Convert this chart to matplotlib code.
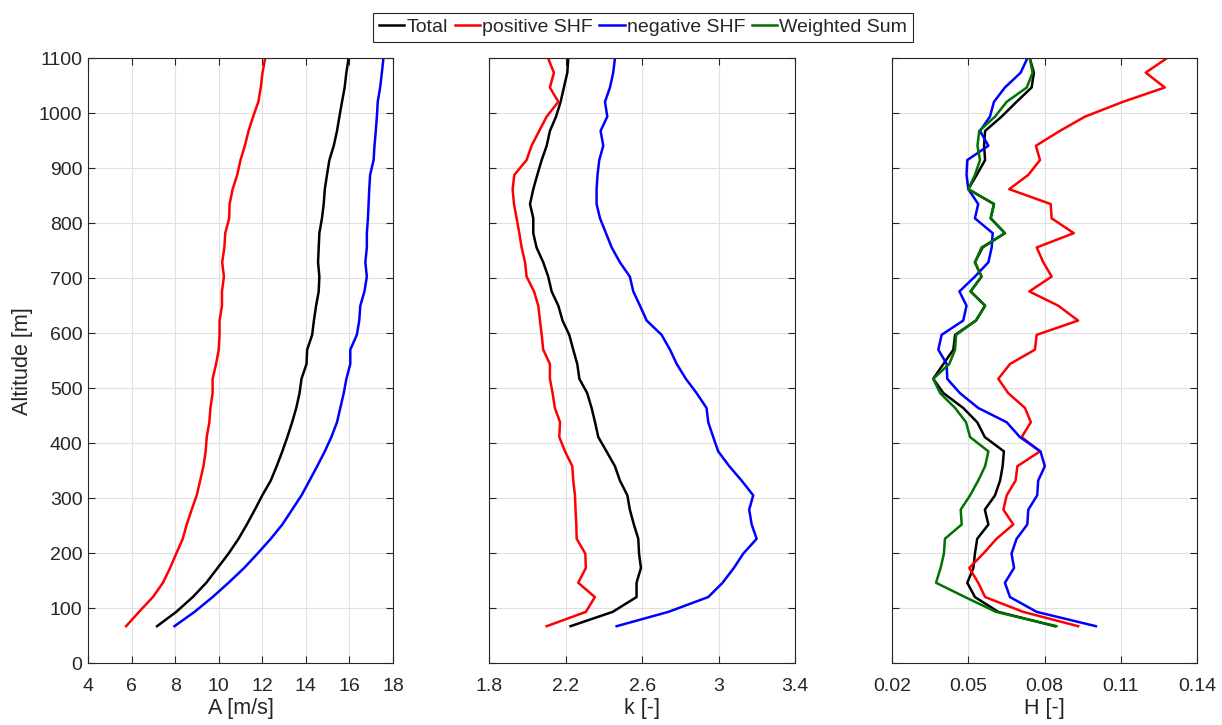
import matplotlib.pyplot as plt
import numpy as np

plt.rcParams['font.family'] = ['Liberation Sans', 'DejaVu Sans']

# --- DATA
alt = [67, 93, 120, 146, 173, 199, 226, 252, 279, 305, 332, 358, 385, 411, 438,
       464, 491, 517, 544, 570, 597, 623, 650, 676, 703, 729, 756, 782, 809, 835,
       862, 888, 915, 941, 968, 994, 1021, 1047, 1074, 1100]

# A [m/s]
A_total = [7.17, 8.05, 8.81, 9.43, 9.95, 10.45, 10.91, 11.29, 11.66, 12.00,
           12.39, 12.66, 12.92, 13.15, 13.37, 13.56, 13.71, 13.80, 14.03, 14.06,
           14.29, 14.37, 14.47, 14.59, 14.62, 14.56, 14.59, 14.62, 14.74, 14.82,
           14.87, 14.97, 15.08, 15.28, 15.43, 15.54, 15.66, 15.78, 15.86, 15.96]
A_pos = [5.75, 6.34, 6.98, 7.44, 7.77, 8.05, 8.35, 8.53, 8.76, 8.99,
         9.15, 9.30, 9.40, 9.45, 9.57, 9.62, 9.72, 9.72, 9.88, 10.00,
         10.04, 10.04, 10.15, 10.15, 10.24, 10.16, 10.26, 10.30, 10.48, 10.50,
         10.64, 10.85, 11.00, 11.20, 11.37, 11.58, 11.82, 11.93, 12.01, 12.13]
A_neg = [7.97, 8.89, 9.72, 10.45, 11.17, 11.78, 12.39, 12.92, 13.37, 13.80,
         14.17, 14.52, 14.87, 15.17, 15.43, 15.58, 15.74, 15.86, 16.04, 16.04,
         16.34, 16.45, 16.50, 16.69, 16.80, 16.73, 16.80, 16.80, 16.85, 16.88,
         16.91, 16.95, 17.11, 17.15, 17.21, 17.26, 17.30, 17.41, 17.49, 17.56]

# k [-]
k_total = [2.225, 2.445, 2.570, 2.570, 2.593, 2.583, 2.579, 2.556, 2.535, 2.522,
           2.483, 2.457, 2.413, 2.370, 2.353, 2.335, 2.312, 2.271, 2.260, 2.239,
           2.218, 2.183, 2.161, 2.126, 2.108, 2.082, 2.047, 2.030, 2.030, 2.013,
           2.030, 2.051, 2.074, 2.100, 2.117, 2.149, 2.173, 2.190, 2.208, 2.213]
k_pos = [2.100, 2.305, 2.352, 2.265, 2.305, 2.302, 2.257, 2.255, 2.251, 2.248,
         2.239, 2.234, 2.196, 2.166, 2.170, 2.143, 2.131, 2.117, 2.117, 2.082,
         2.074, 2.065, 2.056, 2.034, 1.995, 1.987, 1.969, 1.957, 1.943, 1.929,
         1.922, 1.931, 1.995, 2.021, 2.061, 2.100, 2.161, 2.117, 2.138, 2.108]
k_neg = [2.466, 2.736, 2.945, 3.020, 3.079, 3.128, 3.198, 3.172, 3.159, 3.180,
         3.119, 3.055, 2.997, 2.971, 2.945, 2.936, 2.884, 2.828, 2.780, 2.745,
         2.701, 2.623, 2.588, 2.553, 2.535, 2.483, 2.440, 2.410, 2.379, 2.361,
         2.361, 2.366, 2.375, 2.396, 2.382, 2.417, 2.405, 2.431, 2.448, 2.457]

# H [-]
H_total = [0.0841, 0.0618, 0.0526, 0.0496, 0.0520, 0.0526, 0.0535, 0.0579, 0.0565, 0.0605,
           0.0625, 0.0635, 0.0640, 0.0565, 0.0535, 0.0480, 0.0402, 0.0362, 0.0402, 0.0441,
           0.0448, 0.0530, 0.0566, 0.0509, 0.0552, 0.0526, 0.0556, 0.0644, 0.0588, 0.0601,
           0.0500, 0.0533, 0.0566, 0.0562, 0.0566, 0.0631, 0.0690, 0.0749, 0.0758, 0.0742]
H_pos = [0.0932, 0.0716, 0.0566, 0.0539, 0.0504, 0.0559, 0.0611, 0.0677, 0.0638, 0.0651,
         0.0686, 0.0693, 0.0782, 0.0710, 0.0746, 0.0723, 0.0657, 0.0618, 0.0664, 0.0762,
         0.0769, 0.0932, 0.0854, 0.0740, 0.0828, 0.0795, 0.0769, 0.0915, 0.0828, 0.0824,
         0.0661, 0.0736, 0.0782, 0.0766, 0.0860, 0.0959, 0.1109, 0.1273, 0.1198, 0.1280]
H_neg = [0.1002, 0.0769, 0.0664, 0.0644, 0.0680, 0.0670, 0.0690, 0.0732, 0.0736, 0.0771,
         0.0775, 0.0801, 0.0784, 0.0703, 0.0651, 0.0539, 0.0467, 0.0417, 0.0415, 0.0382,
         0.0395, 0.0480, 0.0493, 0.0465, 0.0526, 0.0579, 0.0592, 0.0596, 0.0526, 0.0539,
         0.0500, 0.0493, 0.0496, 0.0579, 0.0546, 0.0585, 0.0601, 0.0644, 0.0706, 0.0732]
H_wsum = [0.0847, 0.0609, 0.0487, 0.0373, 0.0391, 0.0404, 0.0408, 0.0474, 0.0470, 0.0507,
          0.0539, 0.0566, 0.0579, 0.0507, 0.0491, 0.0448, 0.0389, 0.0362, 0.0425, 0.0448,
          0.0452, 0.0530, 0.0566, 0.0509, 0.0552, 0.0526, 0.0552, 0.0644, 0.0588, 0.0601,
          0.0500, 0.0526, 0.0546, 0.0536, 0.0543, 0.0605, 0.0651, 0.0730, 0.0753, 0.0742]

labels = ['Total', 'positive SHF', 'negative SHF', 'Weighted Sum']
cols = ['k', 'r', 'b', (0.0, 0.45, 0.0)]
txtcol = (0.15, 0.15, 0.15)

fig = plt.figure(figsize=(12.22, 7.25), dpi=100)
axs = [fig.add_axes([0.072, 0.0855, 0.2496, 0.834]),
       fig.add_axes([0.4004, 0.0855, 0.2504, 0.834]),
       fig.add_axes([0.7300, 0.0855, 0.2496, 0.834])]

lw = 1.8
axs[0].plot(A_total, alt, color=cols[0], lw=lw)
axs[0].plot(A_pos, alt, color=cols[1], lw=lw)
axs[0].plot(A_neg, alt, color=cols[2], lw=lw)

axs[1].plot(k_total, alt, color=cols[0], lw=lw)
axs[1].plot(k_pos, alt, color=cols[1], lw=lw)
axs[1].plot(k_neg, alt, color=cols[2], lw=lw)

h1, = axs[2].plot(H_total, alt, color=cols[0], lw=lw)
h2, = axs[2].plot(H_pos, alt, color=cols[1], lw=lw)
h3, = axs[2].plot(H_neg, alt, color=cols[2], lw=lw)
h4, = axs[2].plot(H_wsum, alt, color=cols[3], lw=lw)

axs[0].set_xlim(4, 18)
axs[0].set_xticks(np.arange(4, 19, 2))
axs[0].set_xlabel('A [m/s]')
axs[1].set_xlim(1.8, 3.4)
axs[1].set_xticks([1.8, 2.2, 2.6, 3.0, 3.4])
axs[1].set_xticklabels(['1.8', '2.2', '2.6', '3', '3.4'])
axs[1].set_xlabel('k [-]')
axs[2].set_xlim(0.02, 0.14)
axs[2].set_xticks([0.02, 0.05, 0.08, 0.11, 0.14])
axs[2].set_xticklabels(['0.02', '0.05', '0.08', '0.11', '0.14'])
axs[2].set_xlabel('H [-]')

axs[0].set_ylabel('Altitude [m]')
for i, ax in enumerate(axs):
    ax.set_ylim(0, 1100)
    ax.set_yticks(np.arange(0, 1101, 100))
    if i > 0:
        ax.set_yticklabels([])
    ax.grid(True, color=(0.88, 0.88, 0.88), lw=0.8)
    ax.set_axisbelow(True)
    ax.tick_params(direction='in', top=True, right=True, length=5,
                   width=0.8, colors=txtcol, labelsize=14, pad=4)
    ax.tick_params(axis='x', pad=11)
    for s in ax.spines.values():
        s.set_color(txtcol)
        s.set_linewidth(0.8)
    ax.xaxis.label.set_size(15.5)
    ax.xaxis.label.set_color(txtcol)
    ax.yaxis.label.set_size(15.5)
    ax.yaxis.label.set_color(txtcol)
    ax.xaxis.labelpad = 2

leg = fig.legend([h1, h2, h3, h4], labels, loc='center', ncol=4,
                 bbox_to_anchor=(0.5262, 0.9625), fontsize=14,
                 handlelength=1.3, handletextpad=0.1, columnspacing=0.35,
                 borderpad=0.3, borderaxespad=0, fancybox=False, framealpha=1)
leg.get_frame().set_edgecolor(txtcol)
leg.get_frame().set_linewidth(0.8)
for t in leg.get_texts():
    t.set_color(txtcol)

fig.savefig('out.png', dpi=100)
